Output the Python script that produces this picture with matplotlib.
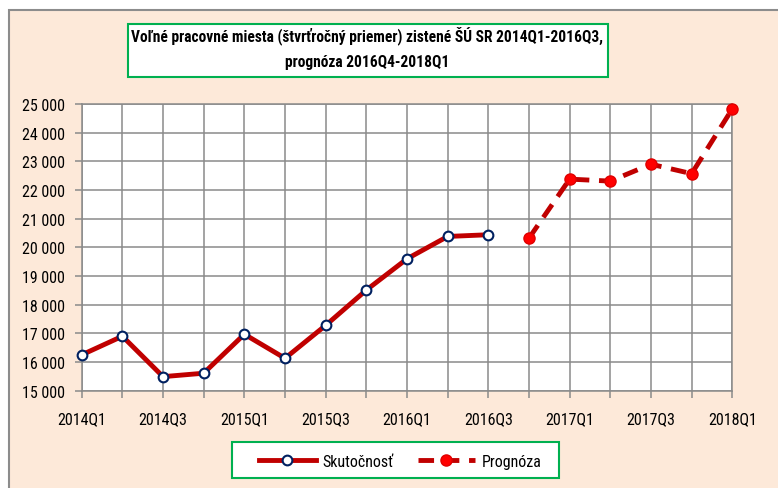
import matplotlib
matplotlib.use("Agg")
import matplotlib.pyplot as plt
from matplotlib.patches import Rectangle
from matplotlib.lines import Line2D
from matplotlib.ticker import FuncFormatter

quarters = ["2014Q1", "2014Q2", "2014Q3", "2014Q4", "2015Q1", "2015Q2", "2015Q3", "2015Q4",
            "2016Q1", "2016Q2", "2016Q3", "2016Q4", "2017Q1", "2017Q2", "2017Q3", "2017Q4", "2018Q1"]
actual = [16250, 16900, 15490, 15610, 16970, 16130, 17280, 18510, 19600, 20380, 20440]
forecast = [20320, 22380, 22310, 22900, 22570, 24830]
title = "Voľné pracovné miesta (štvrťročný priemer) zistené ŠÚ SR 2014Q1-2016Q3,\nprognóza 2016Q4-2018Q1"
labels = ["Skutočnosť", "Prognóza"]

plt.rcParams['font.family'] = ['Roboto Condensed', 'DejaVu Sans']

W, H = 778, 489
fig = plt.figure(figsize=(W / 100, H / 100), dpi=100, facecolor="white")

peach = "#FDE9D9"
fig.patches.append(Rectangle((9 / W, -0.05), 1.1, 1 - 11 / H + 0.05, transform=fig.transFigure,
                             facecolor=peach, edgecolor="#8C8C8C", linewidth=1.5, zorder=-2))

ax = fig.add_axes([81.7 / W, 1 - 391.7 / H, (732.3 - 81.7) / W, (391.7 - 105) / H])
ax.set_zorder(1)
ax.set_facecolor("white")

x_act = list(range(len(actual)))
x_fc = list(range(len(actual), len(actual) + len(forecast)))

LW = 3.5
DASH = (0, (3.2, 2.0))
ax.plot(x_act, actual, color="#C00000", linewidth=LW, marker="o", markersize=7,
        markerfacecolor="white", markeredgecolor="#002060", markeredgewidth=1.5, zorder=3,
        solid_capstyle="round", clip_on=False)
ax.plot(x_fc, forecast, color="#C00000", linewidth=LW, linestyle=DASH, marker="o",
        markersize=8, markerfacecolor="#FF0000", markeredgecolor="#E00000", zorder=3,
        clip_on=False)

ax.set_xlim(0, len(quarters) - 1)
ax.set_ylim(15000, 25000)
ax.set_xticks(range(len(quarters)))
ax.set_xticklabels([q if i % 2 == 0 else "" for i, q in enumerate(quarters)])
ax.set_yticks(range(15000, 25001, 1000))
ax.yaxis.set_major_formatter(FuncFormatter(lambda v, p: f"{int(v):,}".replace(",", " ")))
ax.grid(True, color="#8A8A8A", linewidth=1.1)
ax.set_axisbelow(True)
for s in ax.spines.values():
    s.set_color("#8A8A8A")
    s.set_linewidth(1.1)
ax.tick_params(axis="both", direction="out", length=5, width=1.1, color="#8A8A8A",
               labelsize=11.5, labelcolor="black")
ax.tick_params(axis="y", pad=7)
ax.tick_params(axis="x", pad=10)

# title box
fig.patches.append(Rectangle((128 / W, 1 - 78 / H), (608 - 128) / W, (78 - 25) / H,
                             transform=fig.transFigure, facecolor="white", edgecolor="#00B050",
                             linewidth=1.5, zorder=2))
fig.text(367 / W, 1 - 48 / H, title, ha="center", va="center", fontsize=11.2,
         fontweight="bold", linespacing=1.8, zorder=3)

# legend box
fig.patches.append(Rectangle((232 / W, 1 - 479 / H), (559 - 232) / W, (479 - 443) / H,
                             transform=fig.transFigure, facecolor="white", edgecolor="#00B050",
                             linewidth=1.5, zorder=2))
h1 = Line2D([], [], color="#C00000", linewidth=LW, marker="o", markersize=7,
            markerfacecolor="white", markeredgecolor="#002060", markeredgewidth=1.5)
h2 = Line2D([], [], color="#C00000", linewidth=LW, linestyle=DASH, marker="o",
            markersize=8, markerfacecolor="#FF0000", markeredgecolor="#E00000")
leg = fig.legend([h1, h2], labels, loc="center", bbox_to_anchor=(400 / W, 1 - 462.5 / H),
                 ncol=2, frameon=False, fontsize=11.5, handlelength=3.6, columnspacing=1.5,
                 handletextpad=0.4)
leg.set_zorder(4)

fig.savefig("out.png", dpi=100, facecolor=fig.get_facecolor())
